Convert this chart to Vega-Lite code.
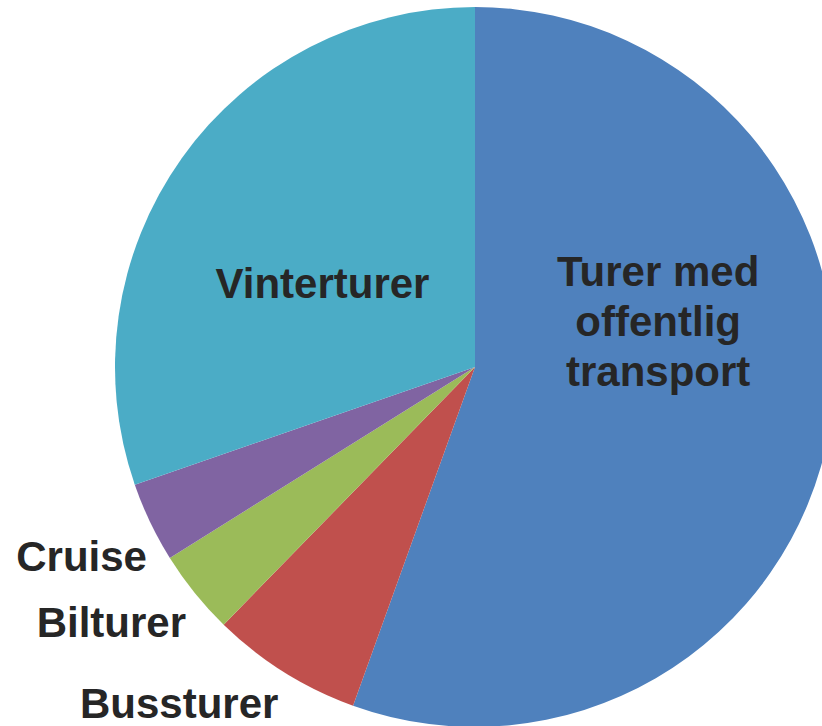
{
  "$schema": "https://vega.github.io/schema/vega-lite/v6.json",
  "width": 950,
  "height": 734,
  "autosize": {"type": "none"},
  "padding": 0,
  "background": "white",
  "view": {"stroke": null},
  "data": {
    "values": [
      {"i": 1, "cat": "Turer med offentlig transport", "label": "Turer med\noffentlig\ntransport", "v": 55.5},
      {"i": 2, "cat": "Bussturer", "label": "Bussturer", "v": 6.8},
      {"i": 3, "cat": "Bilturer", "label": "Bilturer", "v": 3.8},
      {"i": 4, "cat": "Cruise", "label": "Cruise", "v": 3.6},
      {"i": 5, "cat": "Vinterturer", "label": "Vinterturer", "v": 30.3}
    ]
  },
  "encoding": {
    "theta": {"field": "v", "type": "quantitative", "stack": true},
    "order": {"field": "i", "type": "quantitative"}
  },
  "layer": [
    {
      "mark": {"type": "arc", "radius": 360},
      "encoding": {
        "color": {
          "field": "cat",
          "type": "nominal",
          "scale": {
            "domain": ["Turer med offentlig transport", "Bussturer", "Bilturer", "Cruise", "Vinterturer"],
            "range": ["#4F81BD", "#C0504D", "#9BBB59", "#8064A2", "#4BACC6"]
          },
          "legend": null
        }
      }
    },
    {
      "mark": {"type": "text", "radius": 190, "dx": -4, "dy": -127, "font": "Liberation Sans", "fontSize": 42, "fontWeight": "bold", "color": "#262626", "lineBreak": "\n", "lineHeight": 50, "baseline": "middle", "align": "center"},
      "encoding": {
        "detail": {"field": "cat"},
        "text": {"condition": {"test": "datum.cat === 'Turer med offentlig transport'", "field": "label"}, "value": ""}
      }
    },
    {
      "mark": {"type": "text", "radius": 175, "dx": -10, "dy": 20, "font": "Liberation Sans", "fontSize": 42, "fontWeight": "bold", "color": "#262626", "baseline": "middle", "align": "center"},
      "encoding": {
        "detail": {"field": "cat"},
        "text": {"condition": {"test": "datum.cat === 'Vinterturer'", "field": "label"}, "value": ""}
      }
    },
    {
      "mark": {"type": "text", "radius": 435, "dx": -1, "dy": 3, "font": "Liberation Sans", "fontSize": 42, "fontWeight": "bold", "color": "#262626", "baseline": "middle", "align": "center"},
      "encoding": {
        "detail": {"field": "cat"},
        "text": {"condition": {"test": "datum.cat === 'Cruise'", "field": "label"}, "value": ""}
      }
    },
    {
      "mark": {"type": "text", "radius": 435, "dx": -25, "dy": -16, "font": "Liberation Sans", "fontSize": 42, "fontWeight": "bold", "color": "#262626", "baseline": "middle", "align": "center"},
      "encoding": {
        "detail": {"field": "cat"},
        "text": {"condition": {"test": "datum.cat === 'Bilturer'", "field": "label"}, "value": ""}
      }
    },
    {
      "mark": {"type": "text", "radius": 435, "dx": -65, "dy": -31, "font": "Liberation Sans", "fontSize": 42, "fontWeight": "bold", "color": "#262626", "baseline": "middle", "align": "center"},
      "encoding": {
        "detail": {"field": "cat"},
        "text": {"condition": {"test": "datum.cat === 'Bussturer'", "field": "label"}, "value": ""}
      }
    }
  ]
}
